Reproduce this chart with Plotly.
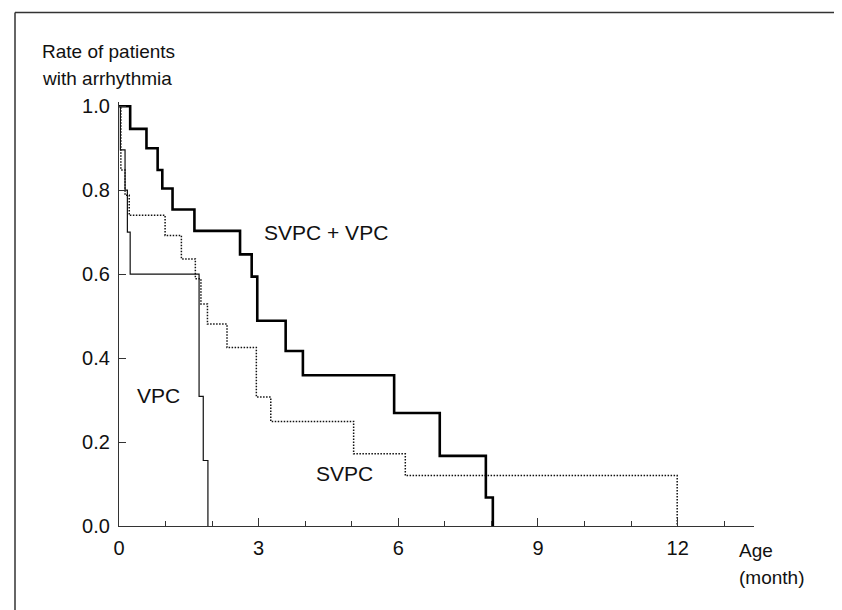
import plotly.graph_objects as go

# ---- data ----
combined_x = [0, 0.24, 0.59, 0.83, 0.93, 1.15, 1.62, 2.60, 2.85, 2.97, 3.58, 3.95, 5.91, 6.89, 7.88, 8.03]
combined_y = [1.0, 0.946, 0.900, 0.848, 0.804, 0.754, 0.703, 0.647, 0.594, 0.489, 0.417, 0.359, 0.269, 0.167, 0.068, 0.0]

vpc_x = [0, 0.03, 0.13, 0.18, 0.24, 1.72, 1.81, 1.91]
vpc_y = [1.0, 0.896, 0.80, 0.70, 0.60, 0.309, 0.156, 0.0]

svpc_x = [0, 0.04, 0.13, 0.22, 0.99, 1.34, 1.64, 1.76, 1.90, 2.32, 2.95, 3.26, 5.04, 6.15, 11.99]
svpc_y = [1.0, 0.848, 0.788, 0.740, 0.692, 0.636, 0.589, 0.529, 0.481, 0.425, 0.307, 0.249, 0.172, 0.120, 0.0]

x_ticks = [0, 3, 6, 9, 12]
y_ticks = [0.0, 0.2, 0.4, 0.6, 0.8, 1.0]

# ---- layout geometry ----
WIDTH, HEIGHT = 842, 610
L, R, T, B = 111, 96, 94, 92
PW, PH = WIDTH - L - R, HEIGHT - T - B
FONT = "Liberation Sans, Arial, Helvetica, sans-serif"
INK = "#111111"


def px(xp):
    return (xp - L) / PW


def py(yp):
    return (HEIGHT - B - yp) / PH


fig = go.Figure()
fig.add_trace(go.Scatter(x=svpc_x, y=svpc_y, mode="lines", line_shape="hv",
                         line=dict(color=INK, width=1.5, dash="1.5px,1.5px"), name="SVPC"))
fig.add_trace(go.Scatter(x=vpc_x, y=vpc_y, mode="lines", line_shape="hv",
                         line=dict(color=INK, width=1.2), name="VPC"))
fig.add_trace(go.Scatter(x=combined_x, y=combined_y, mode="lines", line_shape="hv",
                         line=dict(color="#000000", width=2.6), name="SVPC + VPC"))

fig.update_layout(
    width=WIDTH, height=HEIGHT,
    margin=dict(l=L, r=R, t=T, b=B),
    paper_bgcolor="white", plot_bgcolor="white",
    showlegend=False,
    font=dict(family=FONT, size=20, color=INK),
)
fig.update_xaxes(
    range=[0, 13.64], showgrid=False, zeroline=False,
    showline=True, linecolor="#333333", linewidth=1.3,
    tickmode="array", tickvals=x_ticks, ticktext=[str(v) for v in x_ticks],
    ticks="inside", ticklen=8, tickwidth=1, tickcolor="#333333",
    minor=dict(dtick=1, tick0=0, ticks="inside", ticklen=5, tickwidth=1, tickcolor="#333333"),
    tickfont=dict(family=FONT, size=20, color=INK),
    ticklabelstandoff=4,
)
fig.update_yaxes(
    range=[0, 1.01], showgrid=False, zeroline=False,
    showline=True, linecolor="#333333", linewidth=1.3,
    tickmode="array", tickvals=y_ticks, ticktext=[f"{v:.1f}" for v in y_ticks],
    ticks="inside", ticklen=7, tickwidth=1, tickcolor="#333333",
    tickfont=dict(family=FONT, size=20, color=INK),
    ticklabelstandoff=4,
)

annos = [
    dict(x=3.07, y=0.70, xref="x", yref="y", text="SVPC + VPC", xanchor="left", yanchor="middle", size=21),
    dict(x=0.34, y=0.31, xref="x", yref="y", text="VPC", xanchor="left", yanchor="middle", size=21),
    dict(x=4.85, y=0.125, xref="x", yref="y", text="SVPC", xanchor="center", yanchor="middle", size=21),
    dict(x=px(32), y=py(44), xref="paper", yref="paper", text="Rate of patients", xanchor="left", yanchor="middle", size=19),
    dict(x=px(32), y=py(70), xref="paper", yref="paper", text="with arrhythmia", xanchor="left", yanchor="middle", size=19),
    dict(x=px(729), y=py(542), xref="paper", yref="paper", text="Age", xanchor="left", yanchor="middle", size=19),
    dict(x=px(729), y=py(569), xref="paper", yref="paper", text="(month)", xanchor="left", yanchor="middle", size=19),
]
for a in annos:
    size = a.pop("size")
    a.update(showarrow=False, font=dict(family=FONT, size=size, color=INK))
    fig.add_annotation(**a)

# frame lines (top and left edges of the figure)
fig.add_shape(type="line", xref="paper", yref="paper", x0=px(7), x1=px(WIDTH + 2),
              y0=py(4.5), y1=py(4.5), line=dict(color="#333333", width=1.5))
fig.add_shape(type="line", xref="paper", yref="paper", x0=px(7), x1=px(7),
              y0=py(4.5), y1=py(HEIGHT + 2), line=dict(color="#333333", width=1.5))

fig.write_html("out.html")
